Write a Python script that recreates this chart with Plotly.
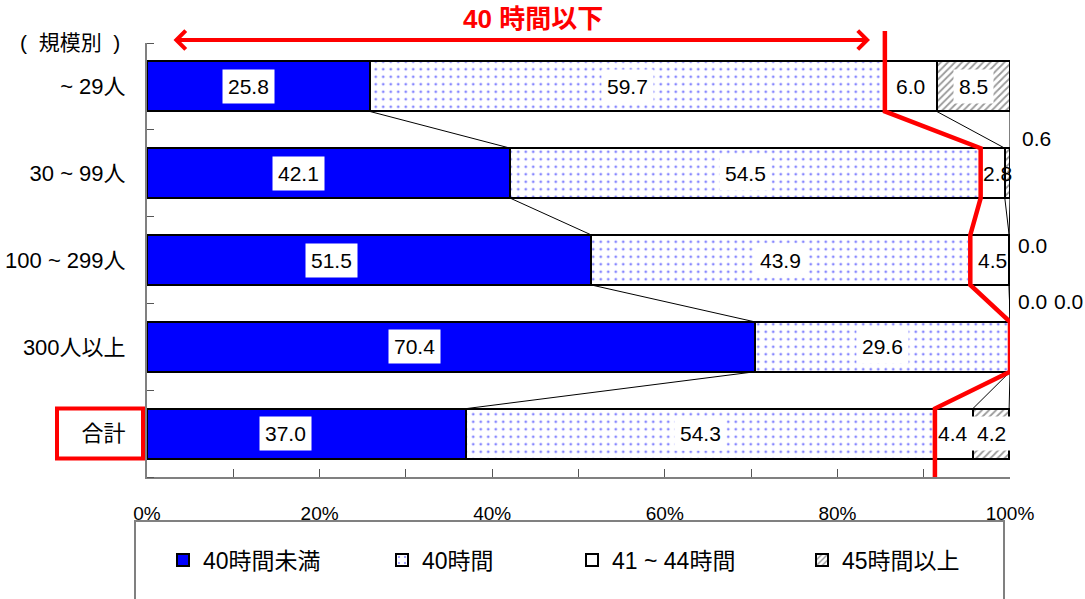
import plotly.graph_objects as go

# ---------------- data ----------------
categories = ["~ 29人", "30 ~ 99人", "100 ~ 299人", "300人以上", "合計"]
series_names = ["40時間未満", "40時間", "41 ~ 44時間", "45時間以上"]
under_40 = [25.8, 42.1, 51.5, 70.4, 37.0]
exactly_40 = [59.7, 54.5, 43.9, 29.6, 54.3]
h41_44 = [6.0, 2.8, 4.5, 0.0, 4.4]
h45_over = [8.5, 0.6, 0.0, 0.0, 4.2]
x_tick_vals = [0, 20, 40, 60, 80, 100]
x_tick_text = ["0%", "20%", "40%", "60%", "80%", "100%"]
title_text = "40 時間以下"
axis_title = "(\u00a0\u00a0規模別\u00a0\u00a0)"

series_values = [under_40, exactly_40, h41_44, h45_over]

# ---------------- style ----------------
W, H = 1085, 599
ML, MR, MT, MB = 147, 75, 43, 122
PW, PH = W - ML - MR, H - MT - MB
BAR_W = 0.576
HALF = BAR_W / 2
LAT = "Liberation Sans, Noto Sans CJK JP, sans-serif"


def px_x(px):
    return (px - ML) / PW


def px_y(py):
    return (H - MB - py) / PH


ypos = list(range(len(categories)))

fills = [
    dict(color="#0000FF"),
    dict(color="white", pattern=dict(shape=".", fgcolor="#1010ff", bgcolor="white",
                                     size=7.5, solidity=0.11)),
    dict(color="white"),
    dict(color="white", pattern=dict(shape="/", fgcolor="#333333", bgcolor="white",
                                     size=5, solidity=0.35)),
]
label_bg = ["white", "white", None, "white"]
legend_ids = ["legend", "legend2", "legend3", "legend4"]
legend_left_px = [163, 382, 572, 802]

fig = go.Figure()
for j, name in enumerate(series_names):
    m = dict(fills[j])
    m["line"] = dict(color="black", width=2)
    fig.add_trace(go.Bar(
        y=ypos, x=series_values[j], name=name, orientation="h",
        width=BAR_W, marker=m, hoverinfo="skip", legend=legend_ids[j],
    ))

# cumulative boundaries
cums = []
run = [0.0] * len(categories)
for vals in series_values:
    run = [r + v for r, v in zip(run, vals)]
    cums.append(list(run))

# series connector lines
lx, ly = [], []
for c in cums:
    for i in range(len(categories) - 1):
        lx += [c[i], c[i + 1], None]
        ly += [i + HALF, i + 1 - HALF, None]
fig.add_trace(go.Scatter(x=lx, y=ly, mode="lines", line=dict(color="black", width=1),
                         showlegend=False, hoverinfo="skip"))

# red 40-hour boundary line
c40 = cums[1]
rx, ry = [c40[0]], [-0.5]
for i, c in enumerate(c40):
    rx += [c, c]
    ry += [i - HALF, i + HALF]
rx += [c40[-1]]
ry += [len(categories) - 0.5]
fig.add_trace(go.Scatter(x=rx, y=ry, mode="lines", line=dict(color="#FF0000", width=4.5),
                         showlegend=False, hoverinfo="skip", cliponaxis=False))

# value labels
label_dx = {(0, 0): -10, (1, 0): -30, (2, 0): -38, (3, 0): -36, (4, 0): -21,
            (1, 2): 5, (2, 2): 3, (4, 2): -1}
outside_pos = {(1, 3): (26, -35), (2, 3): (22, -15), (3, 2): (22, -45), (3, 3): (58, -45)}
annotations = []
for j, vals in enumerate(series_values):
    for i, v in enumerate(vals):
        left = cums[j][i] - v
        txt = f"{v:.1f}"
        if (i, j) in outside_pos:
            dx, dy = outside_pos[(i, j)]
            annotations.append(dict(x=100, y=i, xref="x", yref="y", text=txt, showarrow=False,
                                    xshift=dx, yshift=-dy,
                                    font=dict(family=LAT, size=21, color="black")))
        else:
            annotations.append(dict(x=left + v / 2, y=i, xref="x", yref="y", text=txt,
                                    showarrow=False, xshift=label_dx.get((i, j), 0),
                                    bgcolor=label_bg[j], borderpad=5,
                                    font=dict(family=LAT, size=21, color="black")))

# title and arrow
annotations.append(dict(x=px_x(533), y=px_y(19), xref="paper", yref="paper", xanchor="center",
                        yanchor="middle", text=f"<b>{title_text}</b>",
                        showarrow=False, font=dict(family=LAT, size=26, color="#FF0000")))
annotations.append(dict(x=px_x(870), y=px_y(40), xref="paper", yref="paper",
                        ax=-(870 - 172), ay=0, axref="pixel", ayref="pixel",
                        text="", showarrow=True, arrowhead=4, startarrowhead=4, arrowside="end+start",
                        arrowwidth=4, arrowsize=0.9, startarrowsize=0.9, arrowcolor="#FF0000",
                        standoff=0, startstandoff=0))
annotations.append(dict(x=px_x(70), y=px_y(42), xref="paper", yref="paper", xanchor="center",
                        yanchor="middle", text=axis_title,
                        showarrow=False, font=dict(family=LAT, size=21, color="black")))

shapes = [
    # red line extension above the plot
    dict(type="line", xref="x", yref="paper", x0=c40[0], x1=c40[0], y0=1.0, y1=px_y(31),
         line=dict(color="#FF0000", width=4.5)),
    # red box around total label
    dict(type="rect", xref="paper", yref="y", x0=px_x(57), x1=px_x(143),
         y0=len(categories) - 1 - HALF, y1=len(categories) - 1 + HALF,
         line=dict(color="#FF0000", width=4)),
    # legend frame
    dict(type="rect", xref="paper", yref="paper", x0=px_x(135), x1=px_x(1004),
         y0=px_y(605), y1=px_y(521), line=dict(color="#808080", width=2)),
]

layout_legends = {}
for k, lid in enumerate(legend_ids):
    layout_legends[lid] = dict(x=px_x(legend_left_px[k]), y=px_y(560), xanchor="left", yanchor="middle",
                               orientation="h", bgcolor="rgba(0,0,0,0)", borderwidth=0,
                               font=dict(family=LAT, size=23, color="black"))

fig.update_layout(
    width=W, height=H, margin=dict(l=ML, r=MR, t=MT, b=MB, pad=0, autoexpand=False),
    barmode="stack", bargap=0, plot_bgcolor="white", paper_bgcolor="white",
    showlegend=True, annotations=annotations, shapes=shapes,
    xaxis=dict(range=[0, 100], tickvals=x_tick_vals, ticktext=x_tick_text, showgrid=False,
               zeroline=False, showline=True, linecolor="#808080", linewidth=2, automargin=False,
               ticks="inside", ticklen=8, tickcolor="#555555", ticklabelstandoff=18,
               tickfont=dict(family=LAT, size=19, color="black"),
               minor=dict(dtick=10, ticks="inside", ticklen=8, tickcolor="#555555")),
    yaxis=dict(range=[len(categories) - 0.5, -0.5], tickvals=ypos, ticktext=categories,
               showgrid=False, zeroline=False, showline=True, linecolor="#808080", linewidth=2,
               automargin=False, ticks="", ticklabelstandoff=15,
               tickfont=dict(family=LAT, size=22, color="black"),
               minor=dict(tickvals=[k - 0.5 for k in range(len(categories) + 1)], ticks="inside",
                          ticklen=7, tickcolor="#555555")),
    **layout_legends,
)

fig.write_html("out.html")
